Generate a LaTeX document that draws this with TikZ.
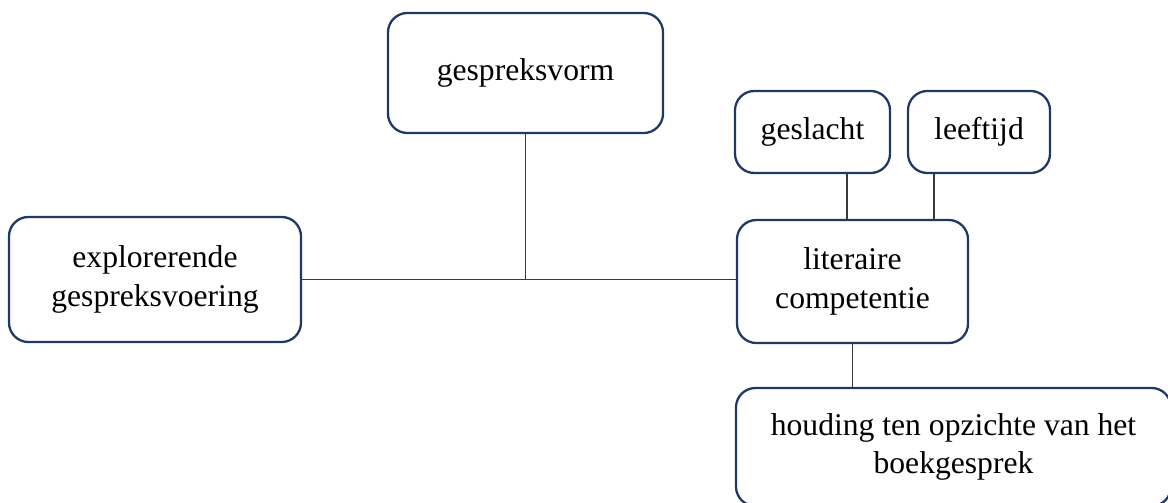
\documentclass[tikz,border=0pt]{standalone}
\definecolor{vNavy}{HTML}{1F3864}
\definecolor{vLine}{HTML}{3A3A3A}
\usepackage{fontspec}
\setmainfont{Liberation Serif}
\usepackage{tikz}
\usetikzlibrary{positioning, calc}
\usepackage{xcolor}

\begin{document}
\begin{tikzpicture}[
  varbox/.style={rounded corners=11pt, draw=vNavy, line width=1.3pt, fill=white,
    align=center, inner sep=0pt, font=\fontsize{18}{22}\selectfont},
  link/.style={draw=vLine, line width=0.8pt}]

  \useasboundingbox (0,0) rectangle (23.36,-10.04);

  \node[varbox, minimum width=5.5cm, minimum height=2.4cm] (vorm) at (10.51,-1.46) {gespreksvorm};
  \node[varbox, minimum width=3.1cm, minimum height=1.64cm] (geslacht) at (16.25,-2.64) {geslacht};
  \node[varbox, minimum width=2.84cm, minimum height=1.64cm] (leeftijd) at (19.58,-2.64) {leeftijd};
  \node[varbox, minimum width=5.84cm, minimum height=2.5cm] (expl) at (3.10,-5.59) {explorerende\\gespreksvoering};
  \node[varbox, minimum width=4.62cm, minimum height=2.46cm] (lit) at (17.05,-5.63) {literaire\\competentie};
  \node[varbox, minimum width=8.7cm, minimum height=2.36cm] (houding) at (19.07,-8.94) {houding ten opzichte van het\\boekgesprek};

  % verbindingen
  \draw[link] (expl.east) -- (expl.east -| lit.west);
  \draw[link] (vorm.south) -- (vorm.south |- expl.east);
  \draw[link] ([xshift=-0.11cm]lit.north) -- ([xshift=-0.11cm]lit.north |- geslacht.south);
  \draw[link] ([xshift=1.63cm]lit.north) -- ([xshift=1.63cm]lit.north |- leeftijd.south);
  \draw[link] (lit.south) -- (lit.south |- houding.north);
\end{tikzpicture}
\end{document}
